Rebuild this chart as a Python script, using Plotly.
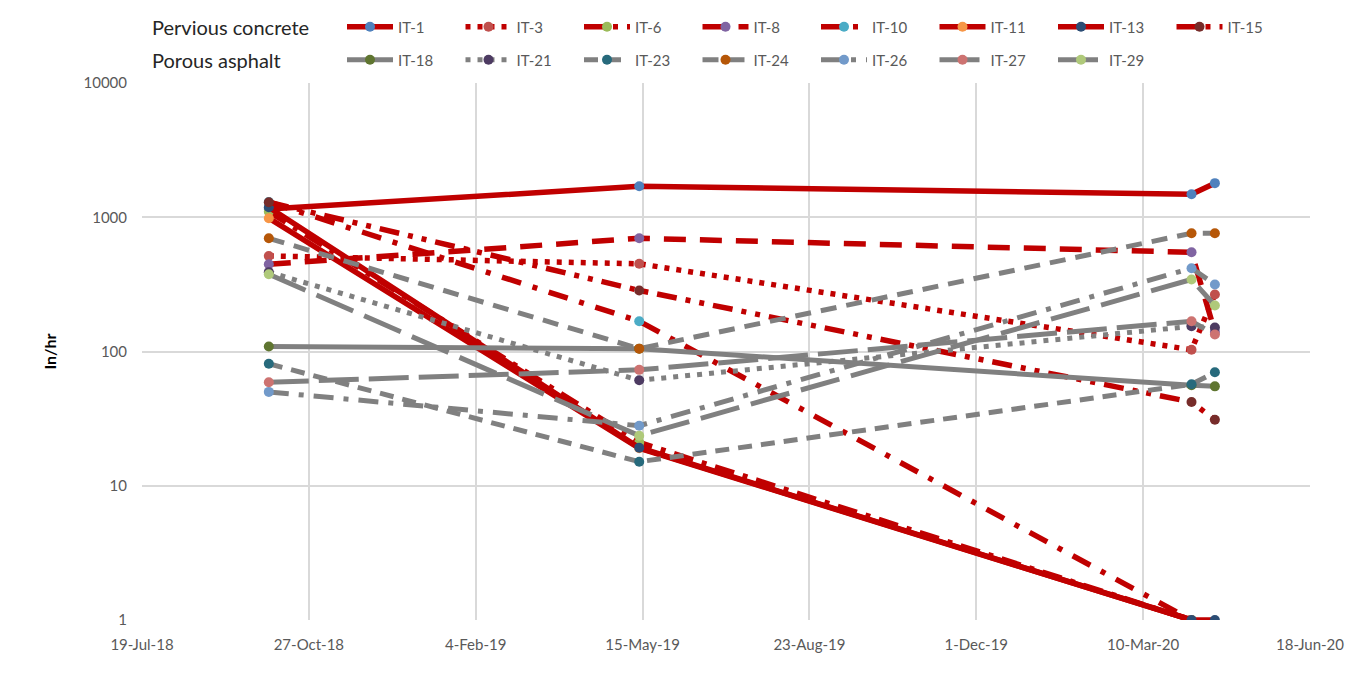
import plotly.graph_objects as go

# ---- data ----
dates = ["2018-10-03", "2019-05-13", "2020-04-08", "2020-04-22"]

concrete_names = ["IT-1", "IT-3", "IT-6", "IT-8", "IT-10", "IT-11", "IT-13", "IT-15"]
it1 = [1150, 1700, 1485, 1795]
it3 = [515, 450, 103, 266]
it6 = [1100, 21, 1, None]
it8 = [446, 697, 548, 140]
it10 = [1300, 168, 1, None]
it11 = [984, 19, 1, None]
it13 = [1188, 19.2, 1, 1]
it15 = [1295, 285, 42, 31]
concrete_values = [it1, it3, it6, it8, it10, it11, it13, it15]

asphalt_names = ["IT-18", "IT-21", "IT-23", "IT-24", "IT-26", "IT-27", "IT-29"]
it18 = [109, 105, 56, 55]
it21 = [390, 61, 154, 151]
it23 = [81, 15.1, 57, 70]
it24 = [697, 105, 760, 760]
it26 = [50, 28, 417, 316]
it27 = [59, 73, 168, 134]
it29 = [376, 23.6, 344, 220]
asphalt_values = [it18, it21, it23, it24, it26, it27, it29]

y_tick_values = [1, 10, 100, 1000, 10000]
y_tick_labels = ["1", "10", "100", "1000", "10000"]

# ---- styles ----
RED = "#C00000"
GRAY = "#808080"
concrete_markers = ["#4F81BD", "#C0504D", "#9BBB59", "#8064A2", "#4BACC6", "#F79646", "#2C4D75", "#772C2A"]
concrete_dash = ["solid", "5px,7px", "20px,9px,5px,9px", "22px,14px", "20px,12px,5px,12px",
                 "solid", "solid", "20px,9px,5px,9px,5px,9px"]
asphalt_markers = ["#5F7530", "#4D3B62", "#276A7C", "#B65708", "#729ACA", "#CD7371", "#AFC97A"]
asphalt_dash = ["solid", "5px,7px", "14px,9px", "16px,10px", "20px,10px,5px,10px", "40px,10px", "40px,12px"]

FONT = "Lato, 'Liberation Sans', sans-serif"
OFF = 8  # page body margin of the html page
W, H = 1372 - OFF, 696 - OFF
ML, MR, MT, MB = 142 - OFF, 62, 83 - OFF, 76

fig = go.Figure()
for name, vals, mc, dash in zip(concrete_names, concrete_values, concrete_markers, concrete_dash):
    fig.add_trace(go.Scatter(
        x=dates, y=vals, name=name, mode="lines+markers", connectgaps=False,
        line=dict(color=RED, width=5.5, dash=dash),
        marker=dict(color=mc, size=10, line=dict(width=0)),
        legend="legend",
    ))
for name, vals, mc, dash in zip(asphalt_names, asphalt_values, asphalt_markers, asphalt_dash):
    fig.add_trace(go.Scatter(
        x=dates, y=vals, name=name, mode="lines+markers", connectgaps=False,
        line=dict(color=GRAY, width=5, dash=dash),
        marker=dict(color=mc, size=10, line=dict(width=0)),
        legend="legend2",
    ))

legend_common = dict(
    orientation="h", xref="container", yref="container", xanchor="left", yanchor="middle",
    entrywidth=57.5, entrywidthmode="pixels", itemwidth=46,
    font=dict(family=FONT, size=15, color="#595959"),
    bgcolor="rgba(0,0,0,0)", borderwidth=0, traceorder="normal",
)


def page_to_paper(px_x, px_y):
    fx, fy = px_x - OFF, px_y - OFF
    return (fx - ML) / (W - ML - MR), (H - MB - fy) / (H - MT - MB)


ax1, ay1 = page_to_paper(150, 27)
ax2, ay2 = page_to_paper(150, 60)

fig.update_layout(
    width=W, height=H,
    paper_bgcolor="white", plot_bgcolor="white",
    margin=dict(l=ML, r=MR, t=MT, b=MB, autoexpand=False),
    font=dict(family=FONT, color="#595959"),
    showlegend=True,
    legend=dict(x=(342 - OFF) / W, y=1 - (27 - OFF) / H, **legend_common),
    legend2=dict(x=(342 - OFF) / W, y=1 - (60 - OFF) / H, **legend_common),
    xaxis=dict(
        type="date", range=["2018-07-19", "2020-06-18"],
        tick0="2018-07-19", dtick=100 * 86400000, tickformat="%-d-%b-%y",
        showgrid=True, gridcolor="#D9D9D9", gridwidth=1.5,
        showline=False, zeroline=False, ticks="", ticklabelstandoff=14,
        tickfont=dict(family=FONT, size=15, color="#595959"),
    ),
    yaxis=dict(
        type="log", range=[0, 4],
        tickvals=y_tick_values, ticktext=y_tick_labels,
        showgrid=True, gridcolor="#D9D9D9", gridwidth=1.5,
        showline=False, zeroline=False, ticks="", ticklabelstandoff=14,
        tickfont=dict(family=FONT, size=15, color="#595959"),
        title=dict(text="<b>In/hr</b>", font=dict(family=FONT, size=16, color="#000000"), standoff=22),
    ),
    annotations=[
        dict(text="Pervious concrete", x=ax1, y=ay1, xref="paper", yref="paper",
             showarrow=False, xanchor="left", yanchor="middle",
             font=dict(family=FONT, size=20, color="#262626")),
        dict(text="Porous asphalt", x=ax2, y=ay2, xref="paper", yref="paper",
             showarrow=False, xanchor="left", yanchor="middle",
             font=dict(family=FONT, size=20, color="#262626")),
    ],
)

fig.write_html("out.html")
